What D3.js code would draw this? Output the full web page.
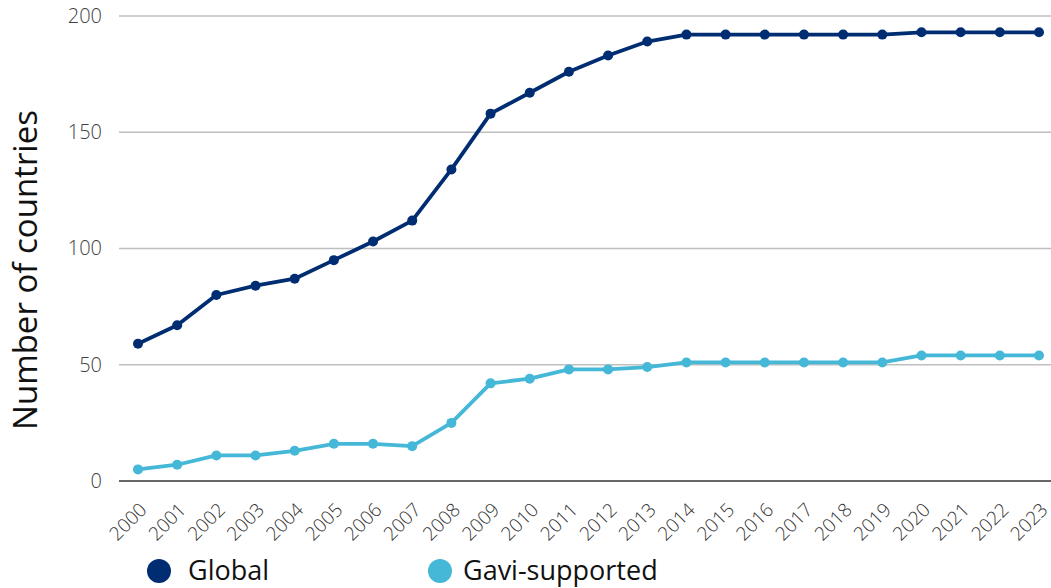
<!DOCTYPE html>
<html><head><meta charset="utf-8">
<script src="https://cdn.jsdelivr.net/npm/d3@7"></script>
<style>body{margin:0;background:#fff}svg{display:block}</style>
</head><body>
<script>
const years = ["2000","2001","2002","2003","2004","2005","2006","2007","2008","2009","2010","2011","2012","2013","2014","2015","2016","2017","2018","2019","2020","2021","2022","2023"];
const globalVals = [59,67,80,84,87,95,103,112,134,158,167,176,183,189,192,192,192,192,192,192,193,193,193,193];
const gaviVals = [5,7,11,11,13,16,16,15,25,42,44,48,48,49,51,51,51,51,51,51,54,54,54,54];
const yTicks = [0,50,100,150,200];
const seriesNames = ["Global","Gavi-supported"];
const colors = ["#002d72","#45b8d8"];

const W=1051,H=588;
const svg=d3.select("body").append("svg").attr("width",W).attr("height",H);
const x=d3.scalePoint().domain(years).range([138,1039]);
const y=d3.scaleLinear().domain([0,200]).range([481,16]);
const font="'Open Sans', sans-serif";

// gridlines
svg.append("g").selectAll("line").data(yTicks.filter(d=>d>0)).join("line")
 .attr("x1",119).attr("x2",W).attr("y1",d=>y(d)).attr("y2",d=>y(d))
 .attr("stroke","#bfbfbf").attr("stroke-width",1.5);
// y axis labels
const ya=svg.append("g").attr("transform","translate(110,0)")
 .call(d3.axisLeft(y).tickValues(yTicks).tickSize(0).tickPadding(8));
ya.select(".domain").remove();
ya.selectAll("text").attr("font-family",font).attr("font-weight",300).attr("font-size",20).attr("fill","#404040");
// baseline
svg.append("line").attr("x1",119).attr("x2",W).attr("y1",y(0)).attr("y2",y(0)).attr("stroke","#666").attr("stroke-width",2);
// x axis
const xa=svg.append("g").attr("transform",`translate(0,${y(0)})`).call(d3.axisBottom(x).tickSize(0).tickPadding(0));
xa.select(".domain").remove();
xa.selectAll("text").attr("font-family",font).attr("font-weight",300).attr("font-size",19).attr("fill","#333")
 .attr("text-anchor","end").attr("y",0).attr("dy",0).attr("transform","translate(9.5,30) rotate(-45)");

// y title
svg.append("text").attr("transform","translate(37,270) rotate(-90)").attr("text-anchor","middle")
 .attr("font-family",font).attr("font-size",33).attr("fill","#111").text("Number of countries");

const data=[globalVals,gaviVals];
data.forEach((vals,i)=>{
  const pts=years.map((yr,j)=>[yr,vals[j]]);
  svg.append("path").datum(pts).attr("fill","none").attr("stroke",colors[i]).attr("stroke-width",3.8)
   .attr("stroke-linejoin","round")
   .attr("d",d3.line().x(d=>x(d[0])).y(d=>y(d[1])));
  svg.append("g").selectAll("circle").data(pts).join("circle")
   .attr("cx",d=>x(d[0])).attr("cy",d=>y(d[1])).attr("r",5).attr("fill",colors[i]);
});

// legend
const legX=[159,440], legTX=[188,463];
seriesNames.forEach((n,i)=>{
  svg.append("circle").attr("cx",legX[i]).attr("cy",571).attr("r",12).attr("fill",colors[i]);
  svg.append("text").attr("x",legTX[i]).attr("y",580).attr("font-family",font).attr("font-size",27)
   .attr("fill","#111").text(n);
});
</script>
</body></html>
